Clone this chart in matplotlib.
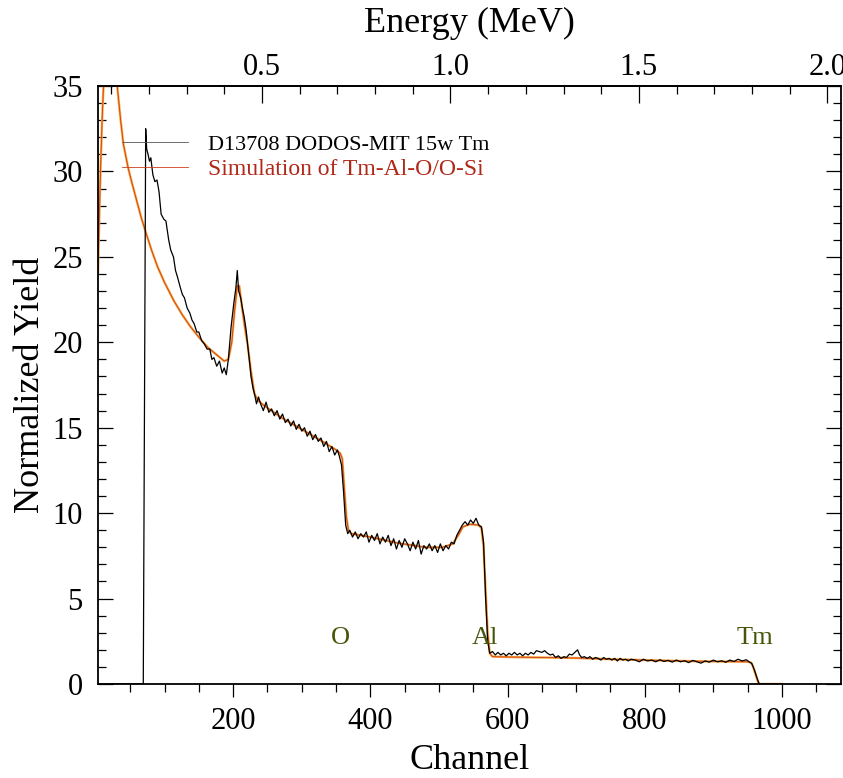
import numpy as np
import matplotlib
matplotlib.use('Agg')
import matplotlib.pyplot as plt
from matplotlib.ticker import MultipleLocator, FormatStrFormatter

plt.rcParams['font.family'] = ['Liberation Serif', 'DejaVu Serif']

# measured spectrum (channel, normalized yield)
data_channel = [3, 69, 70.5, 72.5, 74, 76, 78, 80, 83, 86, 89, 92, 95, 99, 102, 106, 109, 113,
                116, 119, 123, 126, 129, 133, 137, 140, 143, 147, 150, 154, 158, 162, 166,
                169, 172, 176, 180, 184, 187, 190, 193, 197, 201, 204, 206, 208, 211, 214,
                216, 219, 221, 224, 226, 229, 231, 234, 237, 240, 244, 248, 252, 256, 260,
                264, 268, 272, 276, 280, 284, 288, 292, 296, 300, 304, 308, 312, 316, 320,
                324, 328, 332, 336, 340, 344, 348, 352, 355, 358, 361, 364, 367, 370, 374,
                378, 382, 386, 390, 394, 398, 402, 406, 410, 414, 418, 422, 426, 430, 434,
                438, 442, 446, 450, 454, 458, 462, 466, 470, 474, 478, 482, 486, 490, 494,
                498, 502, 506, 510, 514, 518, 522, 526, 530, 534, 538, 542, 546, 550, 554,
                558, 562, 565, 568, 571, 574, 578, 582, 586, 590, 594, 598, 602, 606, 610,
                614, 618, 622, 626, 630, 634, 638, 642, 646, 650, 654, 658, 662, 666, 670,
                674, 678, 682, 686, 690, 694, 698, 702, 705, 708, 712, 716, 720, 724, 728,
                732, 736, 740, 744, 748, 752, 756, 760, 764, 768, 772, 776, 780, 786, 792,
                798, 804, 810, 816, 822, 828, 834, 840, 846, 852, 858, 864, 870, 876, 882,
                888, 894, 900, 906, 912, 918, 924, 930, 936, 942, 948, 952, 956, 960, 964,
                967, 1000]
data_yield = [0, 0, 14.0, 32.5, 31.3, 31.0, 30.6, 30.8, 29.8, 29.4, 29.5, 28.8, 27.5, 27.2,
              27.1, 26.0, 25.4, 25.0, 24.2, 23.8, 23.2, 22.8, 22.6, 22.0, 21.7, 21.3, 21.1,
              20.6, 20.6, 20.1, 19.9, 19.6, 19.6, 19.0, 19.1, 18.6, 18.9, 18.2, 18.5, 18.1,
              19.0, 20.9, 22.3, 23.2, 24.2, 23.0, 22.6, 21.9, 21.5, 20.7, 19.9, 18.8, 18.0,
              17.3, 17.0, 16.4, 16.8, 16.4, 16.0, 16.5, 15.9, 16.1, 15.7, 16.0, 15.5, 15.8,
              15.3, 15.5, 15.1, 15.4, 14.9, 15.2, 14.8, 15.0, 14.5, 14.8, 14.3, 14.6, 14.2,
              14.4, 13.9, 14.2, 13.6, 13.9, 13.4, 13.7, 13.3, 12.8, 11.2, 9.3, 8.8, 9.0, 8.6,
              8.9, 8.5, 8.8, 8.6, 8.9, 8.3, 8.7, 8.4, 8.8, 8.2, 8.6, 8.3, 8.7, 8.1, 8.5, 7.9,
              8.4, 8.0, 8.5, 8.2, 7.8, 8.3, 7.9, 8.4, 7.6, 8.1, 7.9, 8.2, 7.8, 8.1, 7.7, 8.2,
              7.8, 8.1, 7.9, 8.3, 8.2, 8.7, 9.0, 9.3, 9.5, 9.3, 9.6, 9.4, 9.7, 9.3, 9.2, 8.3,
              5.0, 2.5, 1.8, 1.9, 1.7, 1.85, 1.7, 1.8, 1.65, 1.8, 1.7, 1.85, 1.7, 1.8, 1.65,
              1.8, 1.7, 1.85, 1.75, 1.95, 1.9, 1.85, 1.95, 1.8, 1.7, 1.75, 1.55, 1.65, 1.5,
              1.6, 1.55, 1.75, 1.7, 1.85, 2.0, 1.7, 1.55, 1.6, 1.5, 1.6, 1.45, 1.55, 1.5, 1.4,
              1.55, 1.45, 1.5, 1.4, 1.5, 1.35, 1.5, 1.4, 1.45, 1.35, 1.45, 1.4, 1.3, 1.45,
              1.35, 1.4, 1.3, 1.42, 1.32, 1.38, 1.28, 1.4, 1.3, 1.36, 1.25, 1.38, 1.3, 1.22,
              1.35, 1.28, 1.4, 1.3, 1.36, 1.27, 1.4, 1.32, 1.45, 1.35, 1.42, 1.3, 1.2, 0.8,
              0.3, 0.0, 0.0]

# simulation of Tm-Al-O/O-Si
sim_channel = [3, 5, 7, 9, 11, 14, 20, 26, 31, 36, 40, 47, 52, 60, 66, 73, 81, 90, 100,
               114, 126, 138, 150, 163, 175, 187, 193, 198, 202, 206, 209, 213, 218, 221,
               226, 231, 236, 245, 270, 300, 330, 350, 356, 359, 362, 365, 368, 372, 400,
               440, 480, 505, 520, 528, 535, 545, 558, 562, 565, 568, 571, 574, 578, 600,
               650, 700, 750, 800, 850, 900, 950, 955, 958, 962, 966, 1000]
sim_yield = [24.0, 27.5, 30.5, 33.0, 35.0, 37.5, 39.0, 37.5, 35.0, 33.0, 31.6, 30.2, 29.4,
             28.2, 27.3, 26.4, 25.4, 24.4, 23.5, 22.4, 21.6, 20.9, 20.3, 19.7, 19.3, 18.9,
             19.0, 20.0, 21.8, 23.3, 23.3, 22.0, 20.6, 19.9, 18.3, 17.0, 16.6, 16.3, 15.6,
             14.9, 14.2, 13.7, 13.5, 13.2, 11.5, 9.8, 9.0, 8.8, 8.6, 8.25, 8.0, 8.0, 8.2,
             8.7, 9.2, 9.35, 9.3, 9.1, 8.0, 5.5, 3.0, 1.8, 1.6, 1.58, 1.55, 1.52, 1.45, 1.4,
             1.35, 1.32, 1.3, 1.25, 1.0, 0.5, 0.0, 0.0]

# surface edge markers
edge_names = ['O', 'Al', 'Tm']
edge_channel = [357, 567, 961]
edge_height = 2.7

# channel -> energy calibration (MeV)
e_offset = 0.0592
e_per_channel = 0.0018206


def ch2e(ch):
    return e_offset + e_per_channel * np.asarray(ch)


def e2ch(e):
    return (np.asarray(e) - e_offset) / e_per_channel


fig = plt.figure(figsize=(8.43, 7.78), dpi=100)
ax = fig.add_axes([98 / 843, 94 / 778, 743 / 843, 598 / 778])

data_line, = ax.plot(data_channel, data_yield, color='black', lw=0.9, zorder=3)
ax.plot(sim_channel, sim_yield, color='#f4a83a', lw=1.7, zorder=2)
sim_line, = ax.plot(sim_channel, sim_yield, color='#d23a1e', lw=0.6, zorder=2)

for name, ch in zip(edge_names, edge_channel):
    ax.text(ch, edge_height, name, color='#45560a', fontsize=19,
            ha='center', va='center')

leg = ax.legend([data_line, sim_line],
                ['D13708 DODOS-MIT 15w Tm', 'Simulation of Tm-Al-O/O-Si'],
                loc='upper left', bbox_to_anchor=(0.032, 0.92), frameon=False,
                fontsize=17, handlelength=2.8, handletextpad=0.85,
                labelspacing=0.15, borderpad=0, borderaxespad=0,
                labelcolor=['black', '#b02818'])
leg.get_texts()[0].set_fontsize(16)
for h in leg.get_lines():
    h.set_linewidth(0.6)
leg.get_lines()[0].set_color('#555555')

ax.set_xlim(3, 1086)
ax.set_ylim(0, 35)

ax.xaxis.set_major_locator(MultipleLocator(200))
ax.xaxis.set_minor_locator(MultipleLocator(50))
ax.yaxis.set_major_locator(MultipleLocator(5))
ax.yaxis.set_minor_locator(MultipleLocator(1))

ax.tick_params(axis='x', which='both', direction='out', width=0.9,
               labelsize=22, pad=7, top=False)
ax.tick_params(axis='x', which='major', length=9.5)
ax.tick_params(axis='x', which='minor', length=6)
ax.tick_params(axis='y', which='both', direction='in', width=0.9,
               labelsize=22, pad=11, right=True)
ax.tick_params(axis='y', which='major', length=11)
ax.tick_params(axis='y', which='minor', length=6)

for sp in ax.spines.values():
    sp.set_linewidth(1.3)

ax.set_xlabel('Channel', fontsize=26, labelpad=6)
ax.set_ylabel('Normalized Yield', fontsize=26, labelpad=4)

top = ax.secondary_xaxis('top', functions=(ch2e, e2ch))
top.xaxis.set_major_locator(MultipleLocator(0.5))
top.xaxis.set_minor_locator(MultipleLocator(0.1))
top.xaxis.set_major_formatter(FormatStrFormatter('%.1f'))
top.tick_params(which='both', direction='in', width=0.9, labelsize=22, pad=3)
top.tick_params(which='major', length=12)
top.tick_params(which='minor', length=6)
top.spines['top'].set_linewidth(1.3)
top.set_xlabel('Energy (MeV)', fontsize=26, labelpad=15)

fig.savefig('out.png', dpi=100)
